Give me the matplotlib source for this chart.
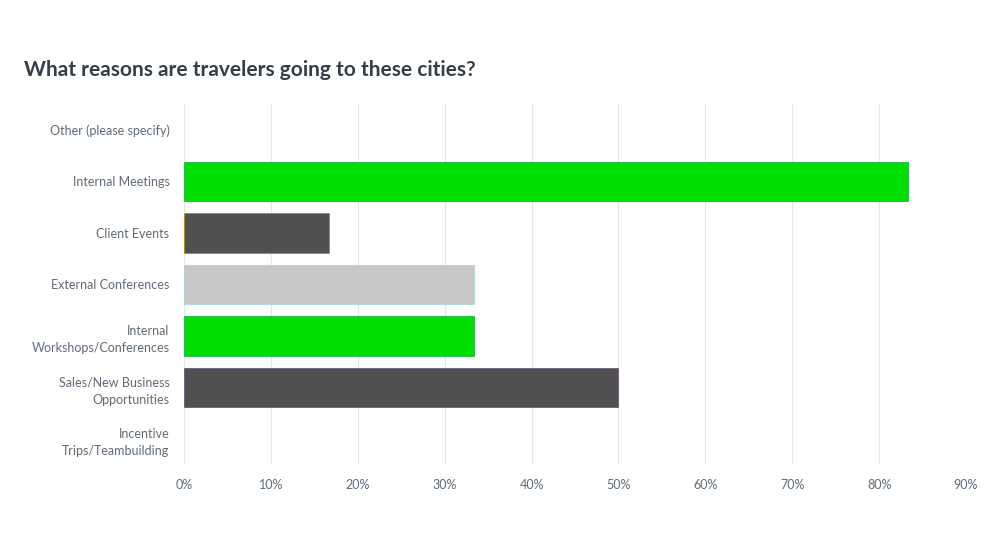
import matplotlib
matplotlib.use("Agg")
import matplotlib.pyplot as plt

categories = ["Other (please specify)", "Internal Meetings", "Client Events",
              "External Conferences", "Internal\nWorkshops/Conferences",
              "Sales/New Business\nOpportunities", "Incentive\nTrips/Teambuilding"]
values = [0.0, 83.33, 16.67, 33.33, 33.33, 50.0, 0.0]
bar_colors = ["#00df00", "#00df00", "#505050", "#c8c8c8", "#00df00", "#505050", "#00df00"]
edge_colors = ["#1db54a", "#1db54a", "#b8860b", "#a8d8d8", "#1db54a", "#6e5a7a", "#1db54a"]
xticks = [0, 10, 20, 30, 40, 50, 60, 70, 80, 90]
xtick_labels = [f"{t}%" for t in xticks]
title = "What reasons are travelers going to these cities?"

plt.rcParams['font.family'] = ['Lato', 'DejaVu Sans']

fig = plt.figure(figsize=(10, 5.33), dpi=100)
ax = fig.add_axes([0.184, 0.1276, 0.782, 0.6773])

y = list(range(len(categories)))
edges = [e if v > 0 else "none" for v, e in zip(values, edge_colors)]
ax.barh(y, values, height=0.76, color=bar_colors, edgecolor=edges, linewidth=0.6, zorder=3)
ax.set_ylim(len(categories) - 0.5, -0.5)
ax.set_xlim(0, 90)
ax.set_xticks(xticks)
ax.set_xticklabels(xtick_labels, fontsize=9, color="#5f6b78")
ax.set_yticks(y)
ax.set_yticklabels(categories, fontsize=9, color="#5f6b78", linespacing=1.5)
ax.tick_params(axis='both', length=0)
ax.tick_params(axis='y', pad=10.5)
ax.tick_params(axis='x', pad=10)
ax.grid(axis='x', color="#e6e6e6", linewidth=0.8, zorder=0)
for s in ax.spines.values():
    s.set_visible(False)

fig.text(0.024, 0.868, title, fontsize=15, fontweight='bold', color="#333e48", ha='left', va='center')

fig.savefig("out.png", dpi=100, facecolor="white")
